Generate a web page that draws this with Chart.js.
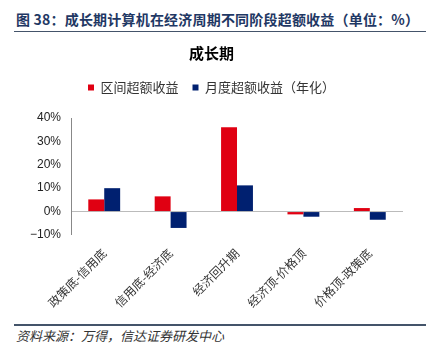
<!DOCTYPE html>
<html lang="zh">
<head>
<meta charset="UTF-8">
<title>成长期</title>
<script src="https://cdn.jsdelivr.net/npm/chart.js"></script>
<style>
  body { margin: 0; width: 435px; height: 352px; background: #fff; position: relative; overflow: hidden;
         font-family: "Noto Sans CJK SC", sans-serif; }
  #head { position: absolute; left: 16px; top: 9px; font-size: 14px; font-weight: bold; color: #1F3864; letter-spacing: 0.2px; white-space: nowrap; }
  #headLine { position: absolute; left: 14px; top: 31px; width: 412px; height: 1px; background: #44546A; }
  #box { position: absolute; left: 0; top: 36px; width: 435px; height: 286px; }
  #footLine { position: absolute; left: 14px; top: 324px; width: 412px; height: 2px; background: #44546A; }
  #foot { position: absolute; left: 16px; top: 326px; font-size: 13px; font-style: italic; color: #333; }
</style>
</head>
<body>
<div id="head">图 38：成长期计算机在经济周期不同阶段超额收益（单位：%）</div>
<div id="headLine"></div>
<div id="box"><canvas id="myBarChart"></canvas></div>
<div id="footLine"></div>
<div id="foot">资料来源：万得，信达证券研发中心</div>

<script>
    const categories = ['政策底-信用底', '信用底-经济底', '经济回升期', '经济顶-价格顶', '价格顶-政策底'];
    const rangeExcess = [5.2, 6.5, 36, -1.2, 1.5];      // 区间超额收益
    const monthlyExcess = [10, -7, 11.2, -2.2, -3.5];   // 月度超额收益（年化）

    const ctx = document.getElementById('myBarChart').getContext('2d');

    // extra room under the legend
    const legendGap = {
        id: 'legendGap',
        beforeInit(chart) {
            const fit = chart.legend.fit;
            chart.legend.fit = function () {
                fit.bind(chart.legend)();
                this.height += 14;
            };
        }
    };

    new Chart(ctx, {
        type: 'bar',
        data: {
            labels: categories,
            datasets: [
                { label: '区间超额收益', data: rangeExcess, backgroundColor: '#E00012' },
                { label: '月度超额收益（年化）', data: monthlyExcess, backgroundColor: '#002070' }
            ]
        },
        options: {
            responsive: true,
            maintainAspectRatio: false,
            animation: false,
            datasets: { bar: { barPercentage: 1, categoryPercentage: 0.48 } },
            layout: { padding: { left: 20, right: 32, top: 4, bottom: 9 } },
            plugins: {
                title: {
                    display: true,
                    text: '成长期',
                    color: '#000',
                    font: { family: '"Noto Sans CJK SC"', size: 15, weight: 'bold' },
                    padding: { top: 4, bottom: 5 }
                },
                legend: {
                    labels: {
                        boxWidth: 6, boxHeight: 6, padding: 14,
                        color: '#333',
                        font: { family: '"Noto Sans CJK SC"', size: 13 }
                    }
                },
                tooltip: { enabled: false }
            },
            scales: {
                x: {
                    grid: { display: false },
                    border: { display: false },
                    ticks: {
                        minRotation: 45, maxRotation: 45,
                        color: '#333',
                        font: { family: '"Noto Sans CJK SC"', size: 12 }
                    }
                },
                y: {
                    min: -10, max: 40,
                    border: { display: true, color: '#888' },
                    grid: {
                        color: c => c.tick && c.tick.value === 0 ? '#bbb' : 'transparent',
                        drawTicks: false
                    },
                    ticks: {
                        stepSize: 10, padding: 10,
                        color: '#222',
                        font: { family: '"Liberation Sans", Arial', size: 12 },
                        callback: v => (v < 0 ? '\u2212' + Math.abs(v) : v) + '%'
                    }
                }
            }
        },
        plugins: [legendGap]
    });
</script>
</body>
</html>
